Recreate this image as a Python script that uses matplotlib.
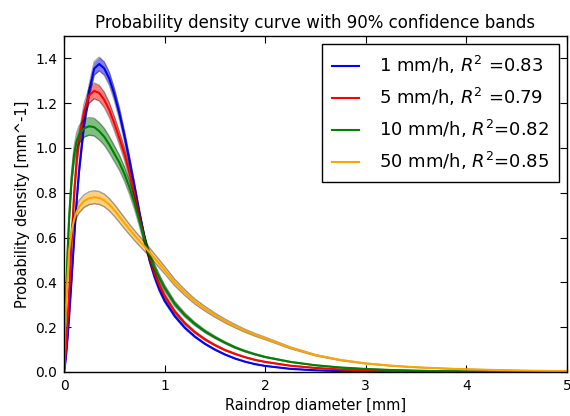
import matplotlib
matplotlib.use("Agg")
import matplotlib.pyplot as plt
import numpy as np

diameter = [0, 0.01, 0.02, 0.035, 0.05, 0.075, 0.1, 0.125, 0.15, 0.2, 0.25, 0.3, 0.35, 0.4, 0.45,
            0.5, 0.55, 0.6, 0.65, 0.7, 0.75, 0.8, 0.85, 0.9, 0.95, 1.0, 1.1, 1.2, 1.3, 1.4, 1.5,
            1.6, 1.7, 1.8, 1.9, 2.0, 2.25, 2.5, 2.75, 3.0, 3.25, 3.5, 3.75, 4.0, 4.5, 5.0]

pdf_1 = [0, 0.03, 0.07, 0.15, 0.24, 0.41, 0.59, 0.76, 0.9, 1.11, 1.255, 1.355, 1.375, 1.355, 1.31,
         1.24, 1.155, 1.055, 0.945, 0.83, 0.71, 0.60, 0.50, 0.425, 0.365, 0.318, 0.25, 0.198, 0.158, 0.126, 0.10,
         0.078, 0.06, 0.046, 0.035, 0.027, 0.014, 0.0075, 0.004, 0.002, 0.001, 0.0005, 0.0002, 0.0001, 0, 0]
pdf_5 = [0, 0.05, 0.11, 0.22, 0.34, 0.58, 0.79, 0.94, 1.04, 1.165, 1.235, 1.255, 1.245, 1.215, 1.17,
         1.11, 1.045, 0.975, 0.89, 0.795, 0.695, 0.595, 0.51, 0.44, 0.385, 0.34, 0.27, 0.218, 0.178, 0.146, 0.12,
         0.098, 0.081, 0.066, 0.054, 0.045, 0.028, 0.018, 0.011, 0.007, 0.0045, 0.0028, 0.0018, 0.0011, 0.0004, 0.0002]
pdf_10 = [0, 0.18, 0.34, 0.53, 0.68, 0.86, 0.97, 1.03, 1.06, 1.088, 1.097, 1.093, 1.075, 1.05, 1.015,
          0.975, 0.935, 0.885, 0.825, 0.755, 0.675, 0.59, 0.52, 0.465, 0.418, 0.375, 0.305, 0.255, 0.215, 0.182, 0.155,
          0.131, 0.11, 0.093, 0.079, 0.067, 0.045, 0.03, 0.02, 0.0135, 0.009, 0.006, 0.004, 0.0027, 0.0012, 0.0005]
pdf_50 = [0, 0.2, 0.3, 0.42, 0.54, 0.625, 0.68, 0.715, 0.738, 0.763, 0.776, 0.78, 0.777, 0.766, 0.747,
          0.722, 0.694, 0.665, 0.637, 0.61, 0.585, 0.56, 0.535, 0.508, 0.482, 0.455, 0.40, 0.355, 0.315, 0.283, 0.254,
          0.228, 0.205, 0.184, 0.166, 0.15, 0.108, 0.075, 0.053, 0.038, 0.028, 0.021, 0.016, 0.012, 0.0065, 0.0035]

labels = ["1 mm/h, $R^2$ =0.83", "5 mm/h, $R^2$ =0.79",
          "10 mm/h, $R^2$=0.82", "50 mm/h, $R^2$=0.85"]
colors = ["blue", "red", "green", "orange"]
# half width of the 90% band relative to the curve
band_frac = [0.022, 0.028, 0.036, 0.037]

curves = [pdf_1, pdf_5, pdf_10, pdf_50]

fig = plt.figure(figsize=(5.7, 4.16), dpi=100)
ax = fig.add_axes([0.1123, 0.1058, 0.8824, 0.8077])

x = np.array(diameter)
for y, c, lab, f in zip(curves, colors, labels, band_frac):
    y = np.array(y)
    lo = y * (1 - f)
    hi = y * (1 + f)
    ax.fill_between(x, lo, hi, color=c, alpha=0.5, linewidth=0)
    ax.plot(x, lo, color="k", alpha=0.35, lw=1.0)
    ax.plot(x, hi, color="k", alpha=0.35, lw=1.0)
    ax.plot(x, y, color=c, lw=1.5, label=lab)

ax.set_xlim(0, 5)
ax.set_ylim(0, 1.5)
ax.set_xticks([0, 1, 2, 3, 4, 5])
ax.set_yticks(np.arange(0, 1.41, 0.2))
ax.set_yticklabels(["0.0", "0.2", "0.4", "0.6", "0.8", "1.0", "1.2", "1.4"])
ax.tick_params(direction="in", top=True, right=True, length=5, labelsize=10, pad=5)
for s in ax.spines.values():
    s.set_linewidth(1.0)

ax.set_xlabel("Raindrop diameter [mm]", fontsize=10.5)
ax.set_ylabel("Probability density [mm^-1]", fontsize=10.5)
ax.set_title("Probability density curve with 90% confidence bands", fontsize=12)

leg = ax.legend(loc="upper right", fontsize=13, handlelength=1.5, handletextpad=1.1,
                labelspacing=0.55, borderpad=0.55, borderaxespad=0.45,
                fancybox=False, framealpha=1)
leg.get_frame().set_edgecolor("black")

fig.savefig("out.png", dpi=100)
